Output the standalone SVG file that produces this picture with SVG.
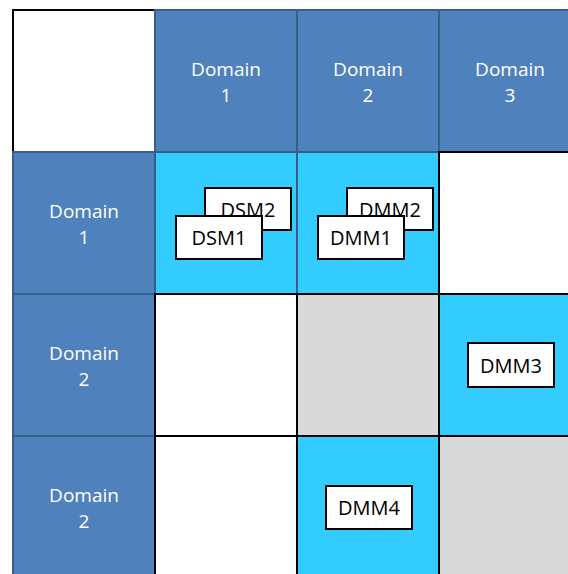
<svg xmlns="http://www.w3.org/2000/svg" width="568" height="574" viewBox="0 0 568 574">
  <style>
    .blank { fill: #FFFFFF; stroke: #000000; stroke-width: 2; }
    .grey { fill: #D9D9D9; stroke: #000000; stroke-width: 2; }
    .head { fill: #4F81BD; stroke: #385D8A; stroke-width: 2; }
    .link { fill: #33CCFF; stroke: #385D8A; stroke-width: 2; }
    .box { fill: #FFFFFF; stroke: #000000; stroke-width: 2; }
    .htxt { font-family: "Open Sans", "Liberation Sans", sans-serif; font-size: 19px; fill: #FFFFFF; text-anchor: middle; }
    .btxt { font-family: "Open Sans", "Liberation Sans", sans-serif; font-size: 20px; fill: #000000; text-anchor: middle; }
  </style>

  <rect width="568" height="574" fill="#FFFFFF"/>

  <!-- corner cell -->
  <g id="corner"><rect class="blank" x="13" y="10" width="142" height="142"/></g>

  <!-- column headers -->
  <g id="col-domain-1">
    <rect class="head" x="155" y="10" width="142" height="142"/>
    <text class="htxt" x="226" y="76">Domain</text>
    <text class="htxt" x="226" y="102">1</text>
  </g>
  <g id="col-domain-2">
    <rect class="head" x="297" y="10" width="142" height="142"/>
    <text class="htxt" x="368" y="76">Domain</text>
    <text class="htxt" x="368" y="102">2</text>
  </g>
  <g id="col-domain-3">
    <rect class="head" x="439" y="10" width="142" height="142"/>
    <text class="htxt" x="510" y="76">Domain</text>
    <text class="htxt" x="510" y="102">3</text>
  </g>

  <!-- row headers -->
  <g id="row-domain-1">
    <rect class="head" x="13" y="152" width="142" height="142"/>
    <text class="htxt" x="84" y="218">Domain</text>
    <text class="htxt" x="84" y="244">1</text>
  </g>
  <g id="row-domain-2a">
    <rect class="head" x="13" y="294" width="142" height="142"/>
    <text class="htxt" x="84" y="360">Domain</text>
    <text class="htxt" x="84" y="386">2</text>
  </g>
  <g id="row-domain-2b">
    <rect class="head" x="13" y="436" width="142" height="142"/>
    <text class="htxt" x="84" y="502">Domain</text>
    <text class="htxt" x="84" y="528">2</text>
  </g>

  <!-- linked cells -->
  <g id="cell-1-1"><rect class="link" x="155" y="152" width="142" height="142"/></g>
  <g id="cell-1-2"><rect class="link" x="297" y="152" width="142" height="142"/></g>
  <g id="cell-2-3"><rect class="link" x="439" y="294" width="142" height="142"/></g>
  <g id="cell-3-2"><rect class="link" x="297" y="436" width="142" height="142"/></g>

  <!-- empty cells -->
  <g id="cell-1-3"><rect class="blank" x="439" y="152" width="142" height="142"/></g>
  <g id="cell-2-1"><rect class="blank" x="155" y="294" width="142" height="142"/></g>
  <g id="cell-2-2"><rect class="grey" x="297" y="294" width="142" height="142"/></g>
  <g id="cell-3-1"><rect class="blank" x="155" y="436" width="142" height="142"/></g>
  <g id="cell-3-3"><rect class="grey" x="439" y="436" width="142" height="142"/></g>

  <!-- matrices -->
  <g id="dsm2">
    <rect class="box" x="205" y="188" width="86" height="42"/>
    <text class="btxt" x="248" y="216.5">DSM2</text>
  </g>
  <g id="dsm1">
    <rect class="box" x="176" y="216" width="86" height="43"/>
    <text class="btxt" x="219" y="245">DSM1</text>
  </g>
  <g id="dmm2">
    <rect class="box" x="347" y="188" width="86" height="42"/>
    <text class="btxt" x="390" y="216.5">DMM2</text>
  </g>
  <g id="dmm1">
    <rect class="box" x="318" y="216" width="86" height="43"/>
    <text class="btxt" x="361" y="245">DMM1</text>
  </g>
  <g id="dmm3">
    <rect class="box" x="468" y="343" width="86" height="44"/>
    <text class="btxt" x="511" y="373">DMM3</text>
  </g>
  <g id="dmm4">
    <rect class="box" x="326" y="486" width="86" height="43"/>
    <text class="btxt" x="369" y="515">DMM4</text>
  </g>

  <g id="connectors"></g>
</svg>
